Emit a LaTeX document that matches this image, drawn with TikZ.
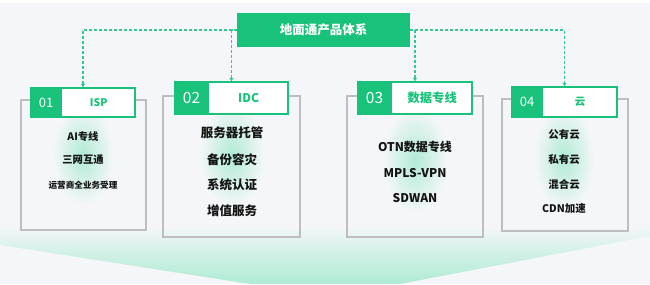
\documentclass[tikz,border=0pt]{standalone}
\usepackage{fontspec}
\setmainfont{Noto Sans CJK SC}
\usetikzlibrary{arrows.meta,calc}
\definecolor{bg}{HTML}{F4F6F9}
\definecolor{brand}{HTML}{19C27A}
\definecolor{dashc}{HTML}{36C690}
\definecolor{cardline}{HTML}{BEBEBE}
\definecolor{mint}{HTML}{B0EBD4}
\definecolor{ink}{HTML}{141414}
\tikzset{
  cardbox/.style={draw=cardline, line width=1.1pt, inner sep=0pt},
  hdr/.style={draw=brand, fill=white, line width=1.4pt, inner sep=0pt},
  numbox/.style={fill=brand, text=white, inner sep=0pt, anchor=west},
  lbl/.style={text=brand, font=\bfseries\fontsize{#1}{#1}\selectfont, inner sep=0pt},
  item/.style={text=ink, font=\bfseries\fontsize{#1}{#1}\selectfont, inner sep=0pt},
  conn/.style={draw=dashc, line width=1.1pt, dash pattern=on 3pt off 2pt,
    -{Triangle[length=3.5pt,width=4pt]}},
  glow/.style={inner color=mint, outer color=bg}
}
\begin{document}
\begin{tikzpicture}[x=1pt,y=-1pt]
\fill[bg] (0,0) rectangle (650,284);
\useasboundingbox (0,0) rectangle (650,284);
\fill[white] (0,0) rectangle (650,3);
% bottom band
\shade[top color=bg, bottom color=mint, middle color=mint!55!bg] (0,226) -- (650,226) -- (650,236) -- (400,284) -- (250,284) -- (0,245) -- cycle;

% glows
\shade[glow] (83,155) ellipse [x radius=30pt, y radius=50pt];
\shade[glow] (232,155) ellipse [x radius=32pt, y radius=52pt];
\shade[glow] (415,160) ellipse [x radius=32pt, y radius=52pt];
\shade[glow] (564,158) ellipse [x radius=30pt, y radius=52pt];

% cards
\node[cardbox, minimum width=125pt, minimum height=130pt] (c1) at (83.5,165) {};
\node[cardbox, minimum width=137pt, minimum height=141pt] (c2) at (231.5,166.5) {};
\node[cardbox, minimum width=136pt, minimum height=141pt] (c3) at (415,166.5) {};
\node[cardbox, minimum width=126pt, minimum height=132pt] (c4) at (565,165) {};

% title
\node[fill=brand, text=white, minimum width=173pt, minimum height=34pt, inner sep=0pt,
      font=\bfseries\fontsize{12.5}{12.5}\selectfont] (t) at (323.5,30) {地面通产品体系};

% headers
\node[hdr, minimum width=104pt, minimum height=29pt] (h1) at (83,102.5) {};
\node[numbox, minimum width=31pt, minimum height=29pt, font=\fontsize{13}{13}\selectfont] (n1) at (h1.west) {01};
\node[lbl=10.5] (l1) at ($(n1.east)!0.5!(h1.east)$) {ISP};

\node[hdr, minimum width=113pt, minimum height=32pt] (h2) at (231.5,98) {};
\node[numbox, minimum width=34pt, minimum height=32pt, font=\fontsize{15.5}{15.5}\selectfont] (n2) at (h2.west) {02};
\node[lbl=12] (l2) at ($(n2.east)!0.5!(h2.east)$) {IDC};

\node[hdr, minimum width=114pt, minimum height=32pt] (h3) at (415,98) {};
\node[numbox, minimum width=34pt, minimum height=32pt, font=\fontsize{15.5}{15.5}\selectfont] (n3) at (h3.west) {03};
\node[lbl=12.3] (l3) at ($(n3.east)!0.5!(h3.east)$) {数据专线};

\node[hdr, minimum width=105pt, minimum height=30pt] (h4) at (564.5,102) {};
\node[numbox, minimum width=31pt, minimum height=30pt, font=\fontsize{13}{13}\selectfont] (n4) at (h4.west) {04};
\node[lbl=10.5] (l4) at ($(n4.east)!0.5!(h4.east)$) {云};

% connectors
\draw[conn] (t.west) -| (h1.north);
\draw[conn] (t.west) -| (h2.north);
\draw[conn] (t.east) -| (h3.north);
\draw[conn] (t.east) -| (h4.north);

% items card 1
\node[item=10.3] (a1) at (83,137) {AI专线};
\node[item=10.3] (a2) at (83,160) {三网互通};
\node[item=8.6] (a3) at (83,185) {运营商全业务受理};
% card 2
\node[item=12.5] (b1) at (232,133) {服务器托管};
\node[item=12.5] (b2) at (232,160) {备份容灾};
\node[item=12.5] (b3) at (232,185) {系统认证};
\node[item=12.5] (b4) at (232,211) {增值服务};
% card 3
\node[item=12] (d1) at (415,147) {OTN数据专线};
\node[item=12] (d2) at (415,173) {MPLS-VPN};
\node[item=12] (d3) at (415,198) {SDWAN};
% card 4
\node[item=10.5] (e1) at (564,135) {公有云};
\node[item=10.5] (e2) at (564,160) {私有云};
\node[item=10.5] (e3) at (564,185) {混合云};
\node[item=10.5] (e4) at (564,209) {CDN加速};
\end{tikzpicture}
\end{document}
